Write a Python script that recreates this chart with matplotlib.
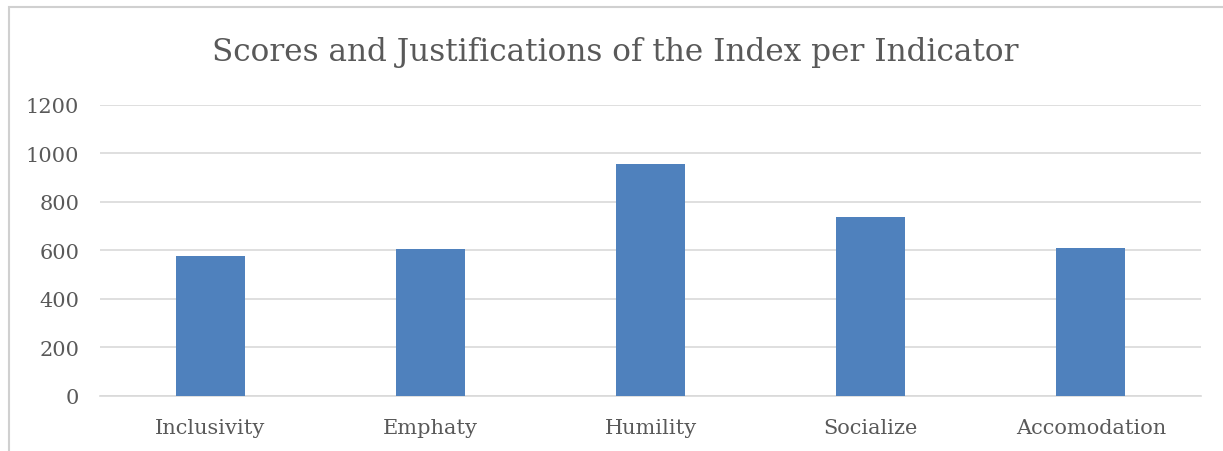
import matplotlib
matplotlib.use("Agg")
import numpy as np
from matplotlib import pyplot as plt
from matplotlib.patches import Rectangle

categories = ["Inclusivity", "Emphaty", "Humility", "Socialize", "Accomodation"]
scores = [576, 605, 956, 737, 611]
y_ticks = [0, 200, 400, 600, 800, 1000, 1200]

plt.rcParams['font.family'] = ['DejaVu Serif']
text_color = '#595959'

fig = plt.figure(figsize=(12.23, 4.52), dpi=100)
W, H = 1223, 452
ax = fig.add_axes([100 / W, (H - 397) / H, 1101 / W, 291.3 / H])

x = np.arange(len(categories))
ax.bar(x, scores, width=0.314, color='#4F81BD', zorder=3)

ax.set_xlim(-0.5, len(categories) - 0.5)
ax.set_ylim(0, 1200)
ax.set_yticks(y_ticks)
ax.set_xticks(x)
ax.set_xticklabels(categories)
ax.grid(axis='y', color='#D9D9D9', linewidth=1.2, zorder=0)
ax.tick_params(axis='both', length=0, labelsize=15, labelcolor=text_color)
ax.tick_params(axis='y', pad=15)
ax.tick_params(axis='x', pad=16)
for s in ['top', 'right', 'left']:
    ax.spines[s].set_visible(False)
ax.spines['bottom'].set_color('#D9D9D9')
ax.spines['bottom'].set_linewidth(1.2)

fig.text(615 / W, 1 - 52 / H, "Scores and Justifications of the Index per Indicator",
         ha='center', va='center', fontsize=22.4, color=text_color)

# light chart-area border
fig.patches.append(Rectangle((9 / W, -0.1), 1.2, 1.1 - 8 / H, transform=fig.transFigure,
                             fill=False, edgecolor='#D0D0D0', linewidth=1.5))

fig.savefig('out.png', dpi=100)
